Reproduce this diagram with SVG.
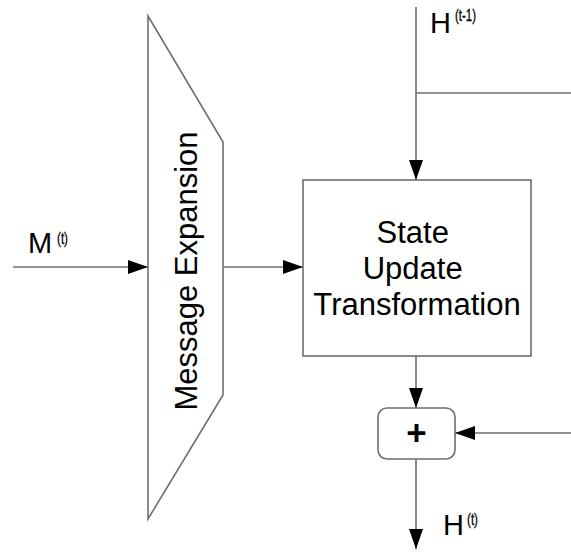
<svg xmlns="http://www.w3.org/2000/svg" width="571" height="552" viewBox="0 0 571 552">
  <style>
    .txt { font-family: "Liberation Sans", Arial, sans-serif; fill: #000; }
    .lbl { font-size: 29px; }
    .sup { font-size: 17px; stroke: #000; stroke-width: 0.3; }
    .shape { fill: #fff; stroke: #6e6e6e; stroke-width: 1.6; }
    .wire { fill: none; stroke: #6e6e6e; stroke-width: 1.6; }
  </style>
  <defs>
    <marker id="arrow" viewBox="0 0 20 14" refX="20" refY="7" markerWidth="20" markerHeight="14" markerUnits="userSpaceOnUse" orient="auto">
      <path d="M0,0 L20,7 L0,14 Z" fill="#000"/>
    </marker>
  </defs>

  <rect width="571" height="552" fill="#fff"/>

  <!-- connectors -->
  <g id="connectors">
    <line class="wire" x1="13" y1="267" x2="148" y2="267" marker-end="url(#arrow)"/>
    <line class="wire" x1="223" y1="267" x2="303" y2="267" marker-end="url(#arrow)"/>
    <line class="wire" x1="416" y1="7" x2="416" y2="180" marker-end="url(#arrow)"/>
    <line class="wire" x1="416" y1="93" x2="571" y2="93"/>
    <line class="wire" x1="416" y1="356" x2="416" y2="408" marker-end="url(#arrow)"/>
    <line class="wire" x1="571" y1="433" x2="455" y2="433" marker-end="url(#arrow)"/>
    <line class="wire" x1="416" y1="459" x2="416" y2="549" marker-end="url(#arrow)"/>
  </g>

  <!-- message expansion -->
  <g id="message-expansion">
    <polygon class="shape" points="148,16 223,142 223,395 148,519"/>
    <text class="txt" font-size="31" text-anchor="middle" transform="translate(197,271) rotate(-90)">Message Expansion</text>
  </g>

  <!-- state update transformation -->
  <g id="state-update">
    <rect class="shape" x="303" y="180" width="228" height="176"/>
    <text class="txt" font-size="31" text-anchor="middle">
      <tspan x="417" y="243">State</tspan>
      <tspan x="417" y="279">Update</tspan>
      <tspan x="417" y="315">Transformation</tspan>
    </text>
  </g>

  <!-- feed-forward adder -->
  <g id="adder">
    <rect class="shape" x="378" y="408" width="77" height="51" rx="9" ry="9"/>
    <text class="txt" font-size="35" font-weight="bold" text-anchor="middle" x="416.5" y="445">+</text>
  </g>

  <!-- labels -->
  <g id="label-m">
    <text class="txt lbl" x="28" y="253">M</text>
    <text class="txt sup" x="57" y="244" textLength="11" lengthAdjust="spacingAndGlyphs">(t)</text>
  </g>
  <g id="label-h-prev">
    <text class="txt lbl" x="430" y="33">H</text>
    <text class="txt sup" x="455" y="21" textLength="21" lengthAdjust="spacingAndGlyphs">(t-1)</text>
  </g>
  <g id="label-h">
    <text class="txt lbl" x="443" y="535">H</text>
    <text class="txt sup" x="467" y="525" textLength="11" lengthAdjust="spacingAndGlyphs">(t)</text>
  </g>
</svg>
